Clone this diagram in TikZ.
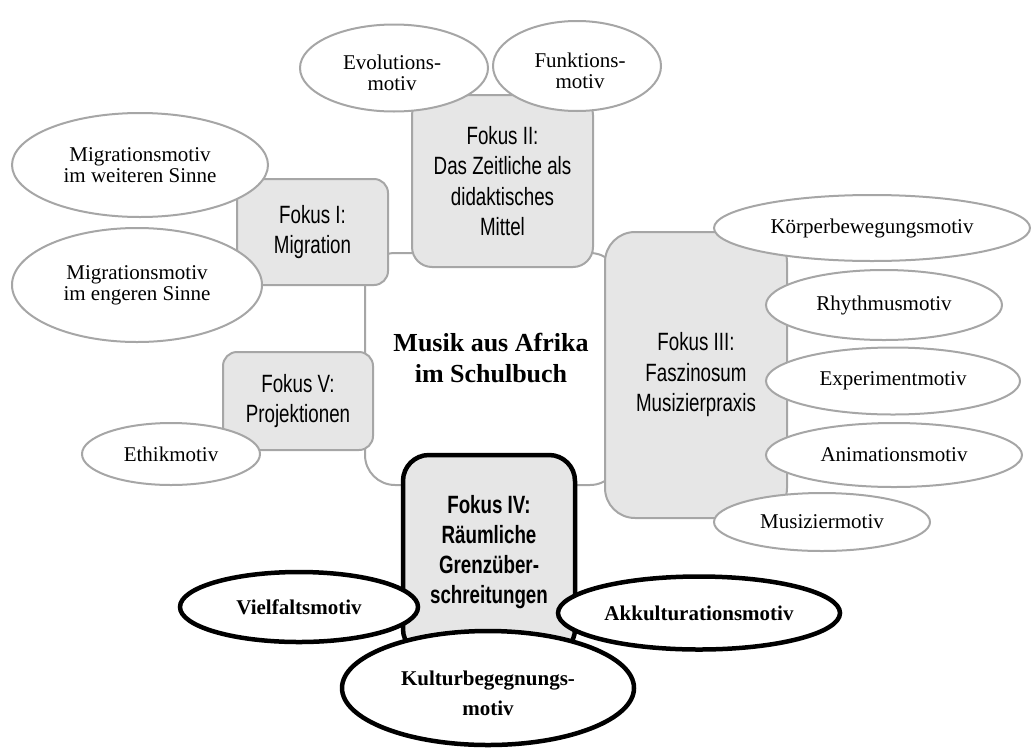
\documentclass[tikz,border=0pt]{standalone}
\usepackage{fontspec}
\setmainfont{Liberation Serif}
\newfontfamily\boxfont[FakeStretch=0.75]{Liberation Sans}
\usetikzlibrary{shapes.geometric}
\definecolor{boxfill}{HTML}{E6E6E6}
\definecolor{edgegrey}{HTML}{A6A6A6}
\tikzset{
  fokusbox/.style={draw=edgegrey, line width=2pt, fill=boxfill, rounded corners=#1,
    inner sep=0pt, align=center, font=\boxfont\fontsize{25}{30.5}\selectfont},
  fokusbox/.default=14pt,
  boldbox/.style={draw=black, line width=4.5pt, fill=boxfill, rounded corners=26pt,
    inner sep=0pt, align=center},
  motiv/.style={ellipse, draw=edgegrey, line width=2pt, fill=white, inner sep=0pt,
    align=center, font=\fontsize{21}{21}\selectfont},
  boldmotiv/.style={ellipse, draw=black, line width=4.5pt, fill=white, inner sep=0pt,
    align=center, font=\bfseries\fontsize{21}{30}\selectfont},
  centerbox/.style={draw=edgegrey, line width=2pt, fill=white, rounded corners=30pt,
    inner sep=0pt, align=center}
}
\begin{document}
\begin{tikzpicture}[x=1pt,y=-1pt]
\useasboundingbox (0,0) rectangle (1032,747);
% central box
\node[centerbox, minimum width=255pt, minimum height=232pt] (c) at (492.5,369) {};
\node[font=\bfseries\fontsize{26}{31}\selectfont, align=center] (title) at (491,358) {Musik aus Afrika\\im Schulbuch};
% Fokus boxes
\node[fokusbox, minimum width=151pt, minimum height=106pt] (f1) at (312.5,232) {Fokus I:\\Migration};
\node[fokusbox=20pt, minimum width=181pt, minimum height=172pt] (f2) at (502.5,181) {Fokus II:\\Das Zeitliche als\\didaktisches\\Mittel};
\node[fokusbox=30pt, minimum width=182pt, minimum height=286pt] (f3) at (696,375) {Fokus III:\\Faszinosum\\Musizierpraxis};
\node[fokusbox, minimum width=150pt, minimum height=98pt] (f5) at (298,401) {Fokus V:\\Projektionen};
% grey ellipses
\node[motiv, minimum width=188pt, minimum height=87pt] (evo) at (394,68) {};
\node[font=\fontsize{21}{21}\selectfont, align=center] (evot) at (392,73) {Evolutions-\\motiv};
\node[motiv, minimum width=168pt, minimum height=90pt] (fun) at (577,66) {};
\node[font=\fontsize{21}{21}\selectfont, align=center] (funt) at (580,71) {Funktions-\\motiv};
\node[motiv, minimum width=256pt, minimum height=104pt] (mw) at (140,165) {Migrationsmotiv\\im weiteren Sinne};
\node[motiv, minimum width=250pt, minimum height=114pt] (me) at (137,285) {Migrationsmotiv\\im engeren Sinne};
\node[motiv, minimum width=178pt, minimum height=62pt] (eth) at (171,454) {Ethikmotiv};
\node[motiv, minimum width=316pt, minimum height=66pt] (koe) at (872,228) {Körperbewegungsmotiv};
\node[motiv, minimum width=236pt, minimum height=70pt] (rhy) at (884,305) {Rhythmusmotiv};
\node[motiv, minimum width=254pt, minimum height=67pt] (exp) at (893,381) {Experimentmotiv};
\node[motiv, minimum width=256pt, minimum height=64pt] (ani) at (894,455) {Animationsmotiv};
\node[motiv, minimum width=216pt, minimum height=58pt] (mus) at (822,522) {Musiziermotiv};
% Fokus IV and bold ellipses
\node[boldbox, minimum width=172pt, minimum height=200pt] (f4) at (489,555) {};
\node[font=\boxfont\bfseries\fontsize{25}{30}\selectfont, align=center] (f4t) at (489,552) {Fokus IV:\\Räumliche\\Grenzüber-\\schreitungen};
\node[boldmotiv, minimum width=238pt, minimum height=70pt] (vie) at (299,607) {Vielfaltsmotiv};
\node[boldmotiv, minimum width=282pt, minimum height=73pt] (akk) at (699,613) {Akkulturationsmotiv};
\node[boldmotiv, minimum width=292pt, minimum height=114pt] (kul) at (488,688) {};
\node[font=\bfseries\fontsize{21}{30}\selectfont, align=center] (kult) at (488,693) {Kulturbegegnungs-\\motiv};
\end{tikzpicture}
\end{document}
